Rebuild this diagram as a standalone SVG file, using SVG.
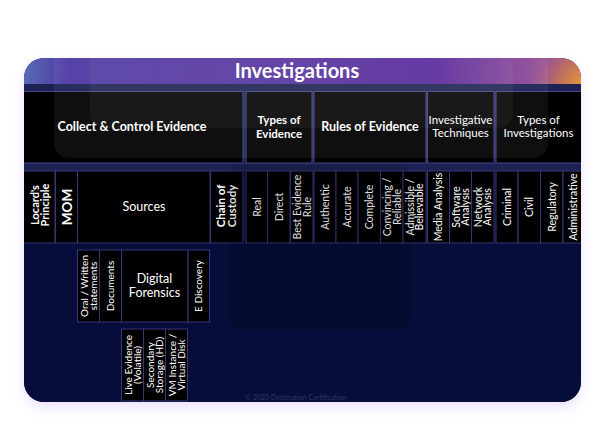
<svg xmlns="http://www.w3.org/2000/svg" width="606" height="429" viewBox="0 0 606 429">
<defs>
<style>
.box{fill:#000;stroke:#3a3478;stroke-width:1}
.top{fill:#000;stroke:#45428a;stroke-width:1}
text{font-family:Lato,"Open Sans","Liberation Sans",sans-serif;fill:#fff}
.t{font-size:12.5px;font-weight:bold;text-anchor:middle}
.tr{font-size:11.5px;text-anchor:middle}
.v{font-size:10.5px;text-anchor:middle}
.vb{font-size:11px;font-weight:bold;text-anchor:middle}
.h{font-size:12.5px;text-anchor:middle}
</style>
<linearGradient id="hdr" gradientUnits="userSpaceOnUse" x1="24" y1="58" x2="581" y2="84">
<stop offset="0" stop-color="#5a6cb6"/>
<stop offset="0.08" stop-color="#4d38a2"/>
<stop offset="0.5" stop-color="#55309c"/>
<stop offset="0.74" stop-color="#56269a"/>
<stop offset="0.9" stop-color="#8a4896"/>
<stop offset="1" stop-color="#b0608a"/>
</linearGradient>
<radialGradient id="org" gradientUnits="userSpaceOnUse" cx="585" cy="88" r="55">
<stop offset="0" stop-color="#f4a530" stop-opacity="1"/>
<stop offset="0.5" stop-color="#d0803e" stop-opacity="0.6"/>
<stop offset="1" stop-color="#b0608a" stop-opacity="0"/>
</radialGradient>
<clipPath id="card"><rect x="24" y="58" width="557" height="344" rx="20"/></clipPath>
<filter id="glow" x="-10%" y="-10%" width="120%" height="125%">
<feDropShadow dx="0" dy="5" stdDeviation="6" flood-color="#c6a6ff" flood-opacity="0.35"/>
</filter>
</defs>
<rect x="0" y="0" width="606" height="429" fill="#fff"/>
<rect x="24" y="58" width="557" height="344" rx="20" fill="#070d3a" filter="url(#glow)"/>
<g clip-path="url(#card)">
<rect x="24" y="58" width="557" height="26" fill="url(#hdr)"/>
<rect x="440" y="58" width="141" height="26" fill="url(#org)"/>
<rect x="24" y="84" width="557" height="87" fill="#1c2353"/>
<rect x="24" y="171" width="557" height="231" fill="#070d3a"/>
<text x="297" y="77.5" style="font-size:20px;font-weight:bold;text-anchor:middle">Investigations</text>

<g id="collect"><rect class="top" x="23.5" y="91.5" width="219.5" height="71.5"/><text class="t" x="132" y="131">Collect &amp; Control Evidence</text></g>
<g id="types-of-evidence"><rect class="top" x="246" y="91.5" width="66" height="71.5"/><text class="t" style="font-size:11.5px" x="279" y="123.5">Types of<tspan x="279" dy="14">Evidence</tspan></text></g>
<g id="rules-of-evidence"><rect class="top" x="314" y="91.5" width="112" height="71.5"/><text class="t" x="370" y="131">Rules of Evidence</text></g>
<g id="investigative-techniques"><rect class="top" x="427.5" y="91.5" width="66.5" height="71.5"/><text class="tr" x="460.5" y="124">Investigative<tspan x="460.5" dy="13">Techniques</tspan></text></g>
<g id="types-of-investigations"><rect class="top" x="496" y="91.5" width="90" height="71.5"/><text class="tr" x="538.5" y="124">Types of<tspan x="538.5" dy="13">Investigations</tspan></text></g>

<g id="locards-principle"><rect class="box" x="23.5" y="171" width="31.5" height="72"/><text class="vb" transform="translate(40,205) rotate(-90)"><tspan x="0" y="-1.5">Locard's</tspan><tspan x="0" y="8.8">Principle</tspan></text></g>
<g id="mom"><rect class="box" x="55.5" y="171" width="22" height="72"/><text class="vb" style="font-size:13.5px" transform="translate(66.5,207) rotate(-90)" y="5">MOM</text></g>
<g id="sources"><rect class="box" x="77.5" y="171" width="132.5" height="72"/><text class="h" x="144" y="211">Sources</text></g>
<g id="chain-of-custody"><rect class="box" x="210.5" y="171" width="32.5" height="72"/><text class="vb" style="font-size:11.5px" transform="translate(226.5,206) rotate(-90)"><tspan x="0" y="-1.5">Chain of</tspan><tspan x="0" y="9">Custody</tspan></text></g>
<g id="real"><rect class="box" x="246" y="171" width="21.5" height="72"/><text class="v" transform="translate(257,207) rotate(-90)" y="3.8">Real</text></g>
<g id="direct"><rect class="box" x="267.5" y="171" width="22.5" height="72"/><text class="v" transform="translate(279,207) rotate(-90)" y="3.8">Direct</text></g>
<g id="best-evidence-rule"><rect class="box" x="290.5" y="171" width="22.5" height="72"/><text class="v" transform="translate(302,207) rotate(-90)"><tspan x="0" y="-1">Best Evidence</tspan><tspan x="0" y="8.6">Rule</tspan></text></g>
<g id="authentic"><rect class="box" x="314" y="171" width="22" height="72"/><text class="v" transform="translate(325,207) rotate(-90)" y="3.8">Authentic</text></g>
<g id="accurate"><rect class="box" x="336" y="171" width="22" height="72"/><text class="v" transform="translate(347,207) rotate(-90)" y="3.8">Accurate</text></g>
<g id="complete"><rect class="box" x="358" y="171" width="22.5" height="72"/><text class="v" transform="translate(369.5,207) rotate(-90)" y="3.8">Complete</text></g>
<g id="convincing-reliable"><rect class="box" x="380.5" y="171" width="22.5" height="72"/><text class="v" transform="translate(392,207) rotate(-90)"><tspan x="0" y="-1">Convincing /</tspan><tspan x="0" y="8.6">Reliable</tspan></text></g>
<g id="admissible-believable"><rect class="box" x="403" y="171" width="23" height="72"/><text class="v" transform="translate(414.5,207) rotate(-90)"><tspan x="0" y="-1">Admissible /</tspan><tspan x="0" y="8.6">Believable</tspan></text></g>
<g id="media-analysis"><rect class="box" x="427.5" y="171" width="22" height="72"/><text class="v" transform="translate(438.5,207) rotate(-90)" y="3.8">Media Analysis</text></g>
<g id="software-analysis"><rect class="box" x="449.5" y="171" width="22" height="72"/><text class="v" transform="translate(460.5,207) rotate(-90)"><tspan x="0" y="-1">Software</tspan><tspan x="0" y="8.6">Analysis</tspan></text></g>
<g id="network-analysis"><rect class="box" x="471.5" y="171" width="22.5" height="72"/><text class="v" transform="translate(482.5,207) rotate(-90)"><tspan x="0" y="-1">Network</tspan><tspan x="0" y="8.6">Analysis</tspan></text></g>
<g id="criminal"><rect class="box" x="496" y="171" width="22" height="72"/><text class="v" transform="translate(507,207) rotate(-90)" y="3.8">Criminal</text></g>
<g id="civil"><rect class="box" x="518" y="171" width="22.5" height="72"/><text class="v" transform="translate(529,207) rotate(-90)" y="3.8">Civil</text></g>
<g id="regulatory"><rect class="box" x="540.5" y="171" width="22.5" height="72"/><text class="v" transform="translate(552,207) rotate(-90)" y="3.8">Regulatory</text></g>
<g id="administrative"><rect class="box" x="563" y="171" width="25" height="72"/><text class="v" transform="translate(573,207) rotate(-90)" y="3.8">Administrative</text></g>

<g id="oral-written"><rect class="box" x="77.5" y="250" width="22" height="72"/><text class="v" style="font-size:10px" transform="translate(88.5,286) rotate(-90)"><tspan x="0" y="-1">Oral / Written</tspan><tspan x="0" y="8.4">statements</tspan></text></g>
<g id="documents"><rect class="box" x="99.5" y="250" width="22" height="72"/><text class="v" style="font-size:10px" transform="translate(110.5,286) rotate(-90)" y="3.6">Documents</text></g>
<g id="digital-forensics"><rect class="box" x="121.5" y="250" width="66.5" height="72"/><text class="h" x="154.5" y="283">Digital<tspan x="154.5" dy="13.5">Forensics</tspan></text></g>
<g id="e-discovery"><rect class="box" x="188" y="250" width="21.5" height="72"/><text class="v" style="font-size:10px" transform="translate(198.5,286) rotate(-90)" y="3.6">E Discovery</text></g>

<g id="live-evidence"><rect class="box" x="121.5" y="329" width="22" height="72"/><text class="v" style="font-size:10px" transform="translate(132.5,365) rotate(-90)"><tspan x="0" y="-1">Live Evidence</tspan><tspan x="0" y="8.4">(Volatile)</tspan></text></g>
<g id="secondary-storage"><rect class="box" x="143.5" y="329" width="22" height="72"/><text class="v" style="font-size:10px" transform="translate(154.5,365) rotate(-90)"><tspan x="0" y="-1">Secondary</tspan><tspan x="0" y="8.4">Storage (HD)</tspan></text></g>
<g id="vm-instance"><rect class="box" x="165.5" y="329" width="22" height="72"/><text class="v" style="font-size:10px" transform="translate(176.5,365) rotate(-90)"><tspan x="0" y="-1">VM Instance /</tspan><tspan x="0" y="8.4">Virtual Disk</tspan></text></g>

<g id="connectors"/>

<rect x="54" y="30" width="494" height="128" rx="15" fill="#fff" opacity="0.06"/>
<rect x="90" y="30" width="423" height="98" rx="15" fill="#fff" opacity="0.045"/>
<rect x="227" y="165" width="185" height="165" rx="16" fill="#000" opacity="0.13"/>
<text x="296" y="400" style="font-size:7px;fill:#2f3763;text-anchor:middle">© 2020 Destination Certification</text>
</g>
</svg>
